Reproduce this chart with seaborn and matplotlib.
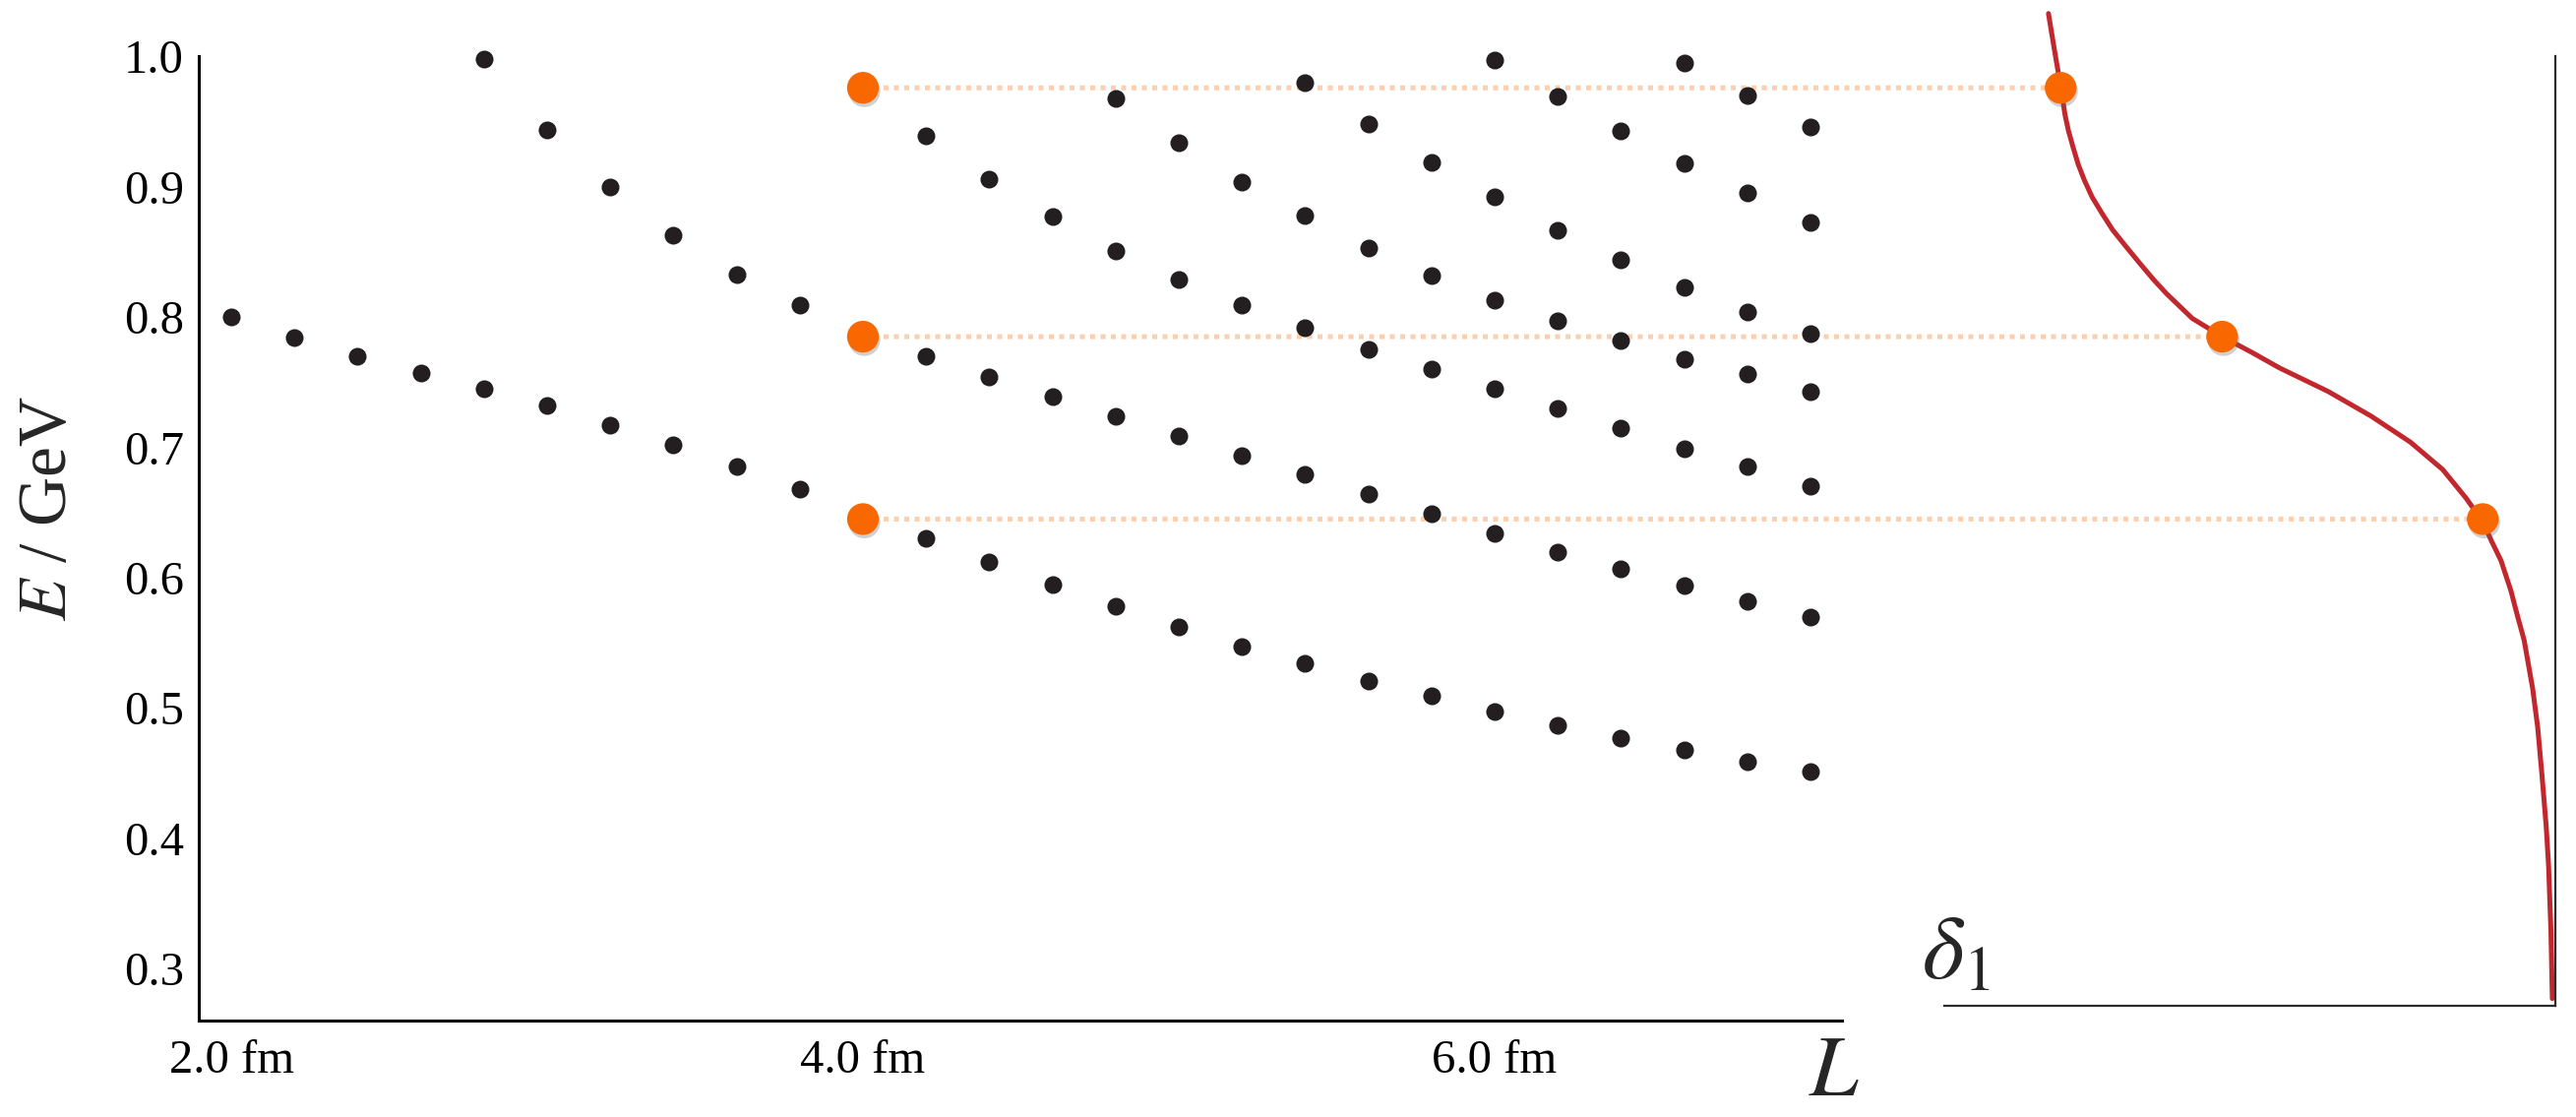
import pandas as pd
import matplotlib
matplotlib.use("Agg")
import matplotlib.pyplot as plt
import matplotlib.patheffects as pe
from matplotlib.patches import ConnectionPatch
import seaborn as sns

# Finite-volume energy levels E(L), one list per level (L in fm, E in GeV)
levelA_L = [2.0, 2.2, 2.4, 2.6, 2.8, 3.0, 3.2, 3.4, 3.6, 3.8, 4.0, 4.2, 4.4,
            4.6, 4.8, 5.0, 5.2, 5.4, 5.6, 5.8, 6.0, 6.2, 6.4, 6.6, 6.8, 7.0]
levelA_E = [0.800, 0.784, 0.770, 0.757, 0.745, 0.732, 0.717, 0.702, 0.685, 0.668,
            0.645, 0.630, 0.612, 0.595, 0.578, 0.562, 0.547, 0.534, 0.521, 0.509,
            0.497, 0.487, 0.477, 0.468, 0.459, 0.451]

levelB_L = [2.8, 3.0, 3.2, 3.4, 3.6, 3.8, 4.0, 4.2, 4.4, 4.6, 4.8, 5.0, 5.2,
            5.4, 5.6, 5.8, 6.0, 6.2, 6.4, 6.6, 6.8, 7.0]
levelB_E = [0.998, 0.944, 0.900, 0.863, 0.833, 0.809, 0.785, 0.770, 0.754, 0.739,
            0.724, 0.709, 0.694, 0.679, 0.664, 0.649, 0.634, 0.620, 0.607, 0.594,
            0.582, 0.570]

levelC_L = [4.0, 4.2, 4.4, 4.6, 4.8, 5.0, 5.2, 5.4, 5.6, 5.8, 6.0, 6.2, 6.4, 6.6, 6.8, 7.0]
levelC_E = [0.976, 0.939, 0.906, 0.877, 0.851, 0.829, 0.809, 0.792, 0.775, 0.760,
            0.745, 0.730, 0.715, 0.699, 0.685, 0.670]

levelD_L = [4.8, 5.0, 5.2, 5.4, 5.6, 5.8, 6.0, 6.2, 6.4, 6.6, 6.8, 7.0]
levelD_E = [0.968, 0.934, 0.904, 0.878, 0.853, 0.832, 0.813, 0.797, 0.782, 0.768,
            0.756, 0.743]

levelE_L = [5.4, 5.6, 5.8, 6.0, 6.2, 6.4, 6.6, 6.8, 7.0]
levelE_E = [0.980, 0.948, 0.919, 0.892, 0.867, 0.844, 0.823, 0.804, 0.787]

levelF_L = [6.0, 6.2, 6.4, 6.6, 6.8, 7.0]
levelF_E = [0.997, 0.969, 0.943, 0.918, 0.895, 0.873]

levelG_L = [6.6, 6.8, 7.0]
levelG_E = [0.995, 0.970, 0.946]

# Highlighted levels at L = 4.0 fm and the matching phase shifts
highlight_L = [4.0, 4.0, 4.0]
highlight_E = [0.976, 0.785, 0.645]
highlight_delta = [145.7, 98.1, 21.3]

# P-wave phase shift delta_1 (degrees)
phase_E = [1.033, 1.006, 0.977, 0.955, 0.943, 0.930, 0.917, 0.905, 0.892, 0.880,
           0.867, 0.855, 0.842, 0.829, 0.818, 0.799, 0.785, 0.773, 0.761, 0.743,
           0.724, 0.704, 0.683, 0.661, 0.643, 0.628, 0.613, 0.590, 0.571, 0.552,
           0.515, 0.485, 0.447, 0.409, 0.379, 0.328, 0.277]
phase_delta = [149.3, 147.6, 145.7, 144.4, 143.4, 142.0, 140.5, 138.7, 136.4, 133.6,
               130.4, 126.7, 122.6, 118.4, 114.5, 106.9, 98.1, 89.4, 81.2, 66.9,
               54.2, 42.6, 33.1, 26.2, 21.3, 18.7, 15.9, 13.0, 11.1, 9.1,
               6.6, 5.1, 3.8, 2.6, 1.9, 1.2, 0.8]

xtick_vals = [2.0, 4.0, 6.0]
xtick_labels = ["2.0 fm", "4.0 fm", "6.0 fm"]
ytick_vals = [0.3, 0.4, 0.5, 0.6, 0.7, 0.8, 0.9, 1.0]

levels = [(levelA_L, levelA_E), (levelB_L, levelB_E), (levelC_L, levelC_E),
          (levelD_L, levelD_E), (levelE_L, levelE_E), (levelF_L, levelF_E),
          (levelG_L, levelG_E)]
df = pd.concat(
    [pd.DataFrame({"L": l, "E": e, "level": i}) for i, (l, e) in enumerate(levels)],
    ignore_index=True,
)

sns.set_style("white")
plt.rcParams["font.family"] = ["Liberation Serif", "DejaVu Serif"]
plt.rcParams["mathtext.fontset"] = "stix"

BLACK = "#231f20"
ORANGE = "#f96800"
RED = "#c1272d"
DOTTED = "#fdcfae"

fig = plt.figure(figsize=(26.18, 11.35), dpi=100)
ax1 = fig.add_axes([0.07716, 0.08634, 0.63789, 0.91366])
ax2 = fig.add_axes([0.75477, 0.08634, 0.23709, 0.91366])
ax1.set_zorder(2)
ax1.patch.set_visible(False)

ylo, yhi = 0.2601, 1.0434

# left panel: energy levels
sns.scatterplot(data=df, x="L", y="E", color=BLACK, s=169, linewidth=0,
                legend=False, ax=ax1, zorder=3)
sns.scatterplot(x=highlight_L, y=highlight_E, color=ORANGE, s=540, linewidth=0,
                legend=False, ax=ax1, zorder=4)
shadow = [pe.SimplePatchShadow(offset=(1.0, -2.5), shadow_rgbFace="#666666", alpha=0.3),
          pe.Normal()]
ax1.collections[-1].set_path_effects(shadow)

ax1.set_xlim(1.897, 7.10)
ax1.set_ylim(ylo, yhi)
ax1.set_xticks(xtick_vals)
ax1.set_xticklabels(xtick_labels)
ax1.set_yticks(ytick_vals)
ax1.set_yticklabels([f"{v:.1f}" for v in ytick_vals])
ax1.tick_params(axis="both", direction="in", length=11.5, width=1.4,
                colors="black", labelsize=35)
ax1.tick_params(axis="y", pad=11)
ax1.tick_params(axis="x", pad=14)
ax1.set_xlabel("")
ax1.set_ylabel(r"$E$ / GeV", fontsize=50, va="center")
ax1.yaxis.set_label_coords(-0.091, 0.5024)
for side in ["top", "right"]:
    ax1.spines[side].set_visible(False)
for side in ["left", "bottom"]:
    ax1.spines[side].set_linewidth(2.2)
    ax1.spines[side].set_color("black")
ax1.spines["left"].set_bounds(ylo, 1.0)

# right panel: phase shift
sns.lineplot(x=phase_delta, y=phase_E, sort=False, estimator=None, color=RED,
             linewidth=3.6, ax=ax2, zorder=2)
ax2.lines[-1].set_solid_joinstyle("round")
sns.scatterplot(x=highlight_delta, y=highlight_E, color=ORANGE, s=540, linewidth=0,
                legend=False, ax=ax2, zorder=4)
ax2.collections[-1].set_path_effects(shadow)

ax2.set_xlim(180, 0)
ax2.set_ylim(ylo, yhi)
ax2.set_xticks([])
ax2.set_yticks([])
ax2.set_xlabel("")
ax2.set_ylabel("")
ax2.patch.set_visible(False)
for side in ["top", "left"]:
    ax2.spines[side].set_visible(False)
ax2.spines["bottom"].set_position(("data", 0.2715))
ax2.spines["bottom"].set_bounds(0, 180)
ax2.spines["right"].set_bounds(0.2715, 1.0)
for side in ["bottom", "right"]:
    ax2.spines[side].set_linewidth(1.6)
    ax2.spines[side].set_color("#2b2b2b")

# dotted guides from the highlighted levels to the phase-shift curve
for d, e in zip(highlight_delta, highlight_E):
    con = ConnectionPatch(xyA=(4.0, e), coordsA=ax1.transData,
                          xyB=(d, e), coordsB=ax2.transData,
                          color=DOTTED, linewidth=3.6, linestyle=(0, (1, 1.1)),
                          capstyle="butt", zorder=1)
    ax2.add_artist(con)
    con.set_clip_on(False)

fig.text(0.7020, 0.003, r"$L$", fontsize=64, ha="left", va="bottom")
fig.text(0.7460, 0.1242, r"$\delta_1$", fontsize=66, ha="left", va="baseline")

fig.savefig("out.png", dpi=100, facecolor="white")
